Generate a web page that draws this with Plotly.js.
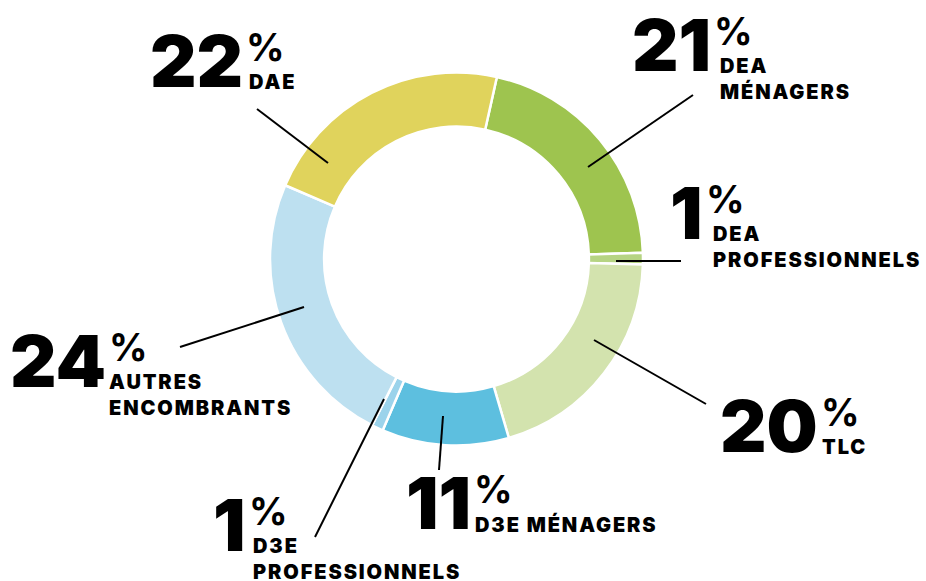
<!DOCTYPE html>
<html><head><meta charset="utf-8">
<script src="https://cdn.plot.ly/plotly-3.0.1.min.js"></script>
<style>html,body{margin:0;padding:0;background:#fff}#chart{width:926px;height:581px}</style>
</head><body><div id="chart"></div>
<script>
// ---- data ----
const categories = ['DEA MÉNAGERS','DEA PROFESSIONNELS','TLC','D3E MÉNAGERS','D3E PROFESSIONNELS','AUTRES ENCOMBRANTS','DAE'];
const values = [21, 1, 20, 11, 1, 24, 22];
const labelLines = ['DEA<br>MÉNAGERS','DEA<br>PROFESSIONNELS','TLC','D3E MÉNAGERS','D3E<br>PROFESSIONNELS','AUTRES<br>ENCOMBRANTS','DAE'];
const colors = ['#9ec44f','#b6d483','#d3e3ae','#5dbfdf','#9bd3eb','#bde0f0','#e0d35c'];

// ---- placement (pixels) ----
const W = 926, H = 581;
const cx = 456.5, cy = 259, R = 186.5;
// per label: baseline y, percent left x, label left x
const place = [
  {by:72,  px:715, lx:720},
  {by:240, px:707, lx:713},
  {by:453, px:822, lx:822},
  {by:530, px:475, lx:475},
  {by:552, px:250, lx:253},
  {by:388, px:110, lx:109},
  {by:88,  px:247, lx:249}
];
// leader lines [x0,y0,x1,y1]
const leaders = [
  [588,167,693,95],
  [616,261,681,261],
  [594,340,706,404],
  [443,416,439,470],
  [384,399,315,537],
  [304,307,180,347],
  [328,163,257,109]
];

const FONT = 'Inter, Lato, sans-serif';
const px2x = x => x / W, px2y = y => 1 - y / H;

// widen the small category labels (every third annotation)
const css = categories.map((c, i) => `.annotation[data-index="${i*3+2}"] text{letter-spacing:1.9px}`).join('\n');
const st = document.createElement('style'); st.textContent = css; document.head.appendChild(st);

const annotations = [];
categories.forEach((c, i) => {
  const p = place[i];
  annotations.push({xref:'paper', yref:'paper', x:px2x(p.px - 3), y:px2y(p.by), xanchor:'right', yanchor:'bottom',
    yshift:-17, text:String(values[i]), showarrow:false, borderpad:0,
    font:{family:FONT, size:72, weight:900, color:'#000'}});
  annotations.push({xref:'paper', yref:'paper', x:px2x(p.px - 2), y:px2y(p.by - 26), xanchor:'left', yanchor:'bottom',
    yshift:-9, text:'%', showarrow:false, borderpad:0,
    font:{family:FONT, size:38, weight:700, color:'#000'}});
  annotations.push({xref:'paper', yref:'paper', x:px2x(p.lx - 1), y:px2y(p.by), xanchor:'left', yanchor:'top',
    yshift:19, text:labelLines[i], showarrow:false, borderpad:0, align:'left',
    font:{family:FONT, size:20, weight:900, color:'#000'}});
});

const shapes = leaders.map(l => ({type:'line', xref:'paper', yref:'paper',
  x0:px2x(l[0]), y0:px2y(l[1]), x1:px2x(l[2]), y1:px2y(l[3]), line:{color:'#000', width:2}}));

const trace = {
  type:'pie', labels:categories, values:values, sort:false, direction:'clockwise', rotation:12.5,
  hole:0.71, textinfo:'none', hoverinfo:'none', showlegend:false,
  marker:{colors:colors, line:{color:'#fff', width:2.5}},
  domain:{x:[(cx - R)/W, (cx + R)/W], y:[1 - (cy + R)/H, 1 - (cy - R)/H]}
};

Plotly.newPlot('chart', [trace], {
  width:W, height:H, margin:{l:0,r:0,t:0,b:0}, paper_bgcolor:'#fff', plot_bgcolor:'#fff',
  annotations:annotations, shapes:shapes
}, {staticPlot:true, displayModeBar:false});
</script></body></html>
